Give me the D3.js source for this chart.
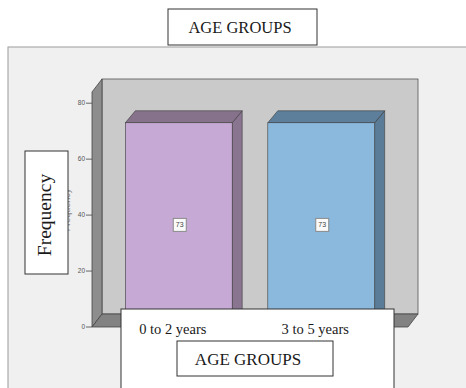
<!DOCTYPE html>
<html>
<head>
<meta charset="utf-8">
<script src="https://cdn.jsdelivr.net/npm/d3@7"></script>
<style>
  html, body { margin: 0; padding: 0; background: #ffffff; }
  svg { display: block; }
  .serif { font-family: "Liberation Serif", "DejaVu Serif", serif; fill: #1a1a1a; }
  .tick-label { font-family: "Liberation Sans", Arial, sans-serif; font-size: 6.5px; fill: #555; }
</style>
</head>
<body>
<svg id="chart" width="466" height="388"></svg>
<script>
// Age group frequencies
const categories = ["0 to 2 years", "3 to 5 years"];
const frequencies = [73, 73];
const yTicks = [0, 20, 40, 60, 80];
const chartTitle = "AGE GROUPS";
const xTitle = "AGE GROUPS";
const yTitle = "Frequency";

// Bar colours: front, top, side faces
const barFront = d3.scaleOrdinal().domain(categories).range(["#c6aad5", "#8bb9de"]);
const barTop = d3.scaleOrdinal().domain(categories).range(["#87728c", "#5d7f9b"]);
const barSide = d3.scaleOrdinal().domain(categories).range(["#8a7591", "#5a7c98"]);

const svg = d3.select("#chart");

// Front plane of the 3D box
const plotLeft = 92, plotRight = 408, plotBottom = 327, plotTop = 92;
const wallDepth = { dx: 10, dy: 13 };
const barDepth = { dx: 10, dy: 12 };

const y = d3.scaleLinear().domain([0, 84]).range([plotBottom, plotTop]);
const x = d3.scaleBand().domain(categories).range([plotLeft, plotRight])
  .paddingInner(0.25).paddingOuter(0.234);

// Outer chart panel
svg.append("rect")
  .attr("x", 8).attr("y", 47).attr("width", 480).attr("height", 360)
  .attr("fill", "#f0f0f0").attr("stroke", "#9c9c9c").attr("stroke-width", 1);

const pts = a => a.map(p => p.join(",")).join(" ");

// Back wall
svg.append("rect")
  .attr("x", plotLeft + wallDepth.dx).attr("y", plotTop - wallDepth.dy)
  .attr("width", plotRight - plotLeft).attr("height", plotBottom - plotTop)
  .attr("fill", "#cacaca").attr("stroke", "#555").attr("stroke-width", 0.8);

// Left side wall
svg.append("polygon")
  .attr("points", pts([[plotLeft, plotTop], [plotLeft + wallDepth.dx, plotTop - wallDepth.dy],
    [plotLeft + wallDepth.dx, plotBottom - wallDepth.dy], [plotLeft, plotBottom]]))
  .attr("fill", "#8d8d8d").attr("stroke", "#444").attr("stroke-width", 0.8);

// Floor
svg.append("polygon")
  .attr("points", pts([[plotLeft, plotBottom], [plotLeft + wallDepth.dx, plotBottom - wallDepth.dy],
    [plotRight + wallDepth.dx, plotBottom - wallDepth.dy], [plotRight, plotBottom]]))
  .attr("fill", "#828282").attr("stroke", "#444").attr("stroke-width", 0.8);

// Y axis ticks and labels
const yAxis = svg.append("g");
yAxis.selectAll("line").data(yTicks).join("line")
  .attr("x1", plotLeft - 6).attr("x2", plotLeft)
  .attr("y1", d => y(d)).attr("y2", d => y(d))
  .attr("stroke", "#444").attr("stroke-width", 0.8);
yAxis.selectAll("text").data(yTicks).join("text")
  .attr("class", "tick-label")
  .attr("x", plotLeft - 7).attr("y", d => y(d) + 2.3)
  .attr("text-anchor", "end")
  .text(d => d);

// 3D bars
const bars = svg.append("g").selectAll("g")
  .data(categories.map((c, i) => ({ c, v: frequencies[i] })))
  .join("g");

bars.append("polygon")
  .attr("points", d => {
    const x0 = x(d.c) + x.bandwidth(), yt = y(d.v), yb = y(0);
    return pts([[x0, yt], [x0 + barDepth.dx, yt - barDepth.dy],
      [x0 + barDepth.dx, yb - barDepth.dy], [x0, yb]]);
  })
  .attr("fill", d => barSide(d.c)).attr("stroke", "#3a3a3a").attr("stroke-width", 0.6);

bars.append("polygon")
  .attr("points", d => {
    const x0 = x(d.c), x1 = x0 + x.bandwidth(), yt = y(d.v);
    return pts([[x0, yt], [x0 + barDepth.dx, yt - barDepth.dy],
      [x1 + barDepth.dx, yt - barDepth.dy], [x1, yt]]);
  })
  .attr("fill", d => barTop(d.c)).attr("stroke", "#3a3a3a").attr("stroke-width", 0.6);

bars.append("rect")
  .attr("x", d => x(d.c)).attr("y", d => y(d.v))
  .attr("width", x.bandwidth()).attr("height", d => y(0) - y(d.v))
  .attr("fill", d => barFront(d.c)).attr("stroke", "#3a3a3a").attr("stroke-width", 0.6);

// Value labels
const cx = d => x(d.c) + x.bandwidth() / 2 + 1;
const cy = d => (y(d.v) + y(0)) / 2;
bars.append("rect")
  .attr("x", d => cx(d) - 6.5).attr("y", d => cy(d) - 6.5)
  .attr("width", 13).attr("height", 13)
  .attr("fill", "#fafafa").attr("stroke", "#8a8a8a").attr("stroke-width", 1);
bars.append("text")
  .attr("class", "tick-label")
  .attr("x", cx).attr("y", d => cy(d) + 2.5)
  .attr("text-anchor", "middle")
  .style("font-size", "7px").style("fill", "#444")
  .text(d => d.v);

// Small axis title, mostly covered by the boxed title
svg.append("text")
  .attr("class", "tick-label")
  .attr("transform", "translate(70,210) rotate(-90)")
  .attr("text-anchor", "middle")
  .style("font-size", "9px").style("fill", "#888")
  .text(yTitle);

// Y title box
svg.append("rect")
  .attr("x", 25).attr("y", 151).attr("width", 43).attr("height", 123)
  .attr("fill", "#ffffff").attr("stroke", "#333").attr("stroke-width", 1);
svg.append("text")
  .attr("class", "serif")
  .attr("transform", "translate(51,215) rotate(-90)")
  .attr("text-anchor", "middle")
  .style("font-size", "19.5px")
  .text(yTitle);

// X axis box with category labels and title
svg.append("rect")
  .attr("x", 121).attr("y", 309).attr("width", 273).attr("height", 90)
  .attr("fill", "#ffffff").attr("stroke", "#333").attr("stroke-width", 1);
svg.append("g").selectAll("text").data(categories).join("text")
  .attr("class", "serif")
  .attr("x", d => x(d) + x.bandwidth() / 2 - 6).attr("y", 334)
  .attr("text-anchor", "middle")
  .style("font-size", "14.5px")
  .text(d => d);
svg.append("rect")
  .attr("x", 177).attr("y", 341).attr("width", 156).attr("height", 35)
  .attr("fill", "#ffffff").attr("stroke", "#333").attr("stroke-width", 1);
svg.append("text")
  .attr("class", "serif")
  .attr("x", 248).attr("y", 365)
  .attr("text-anchor", "middle")
  .style("font-size", "17px")
  .text(xTitle);

// Chart title box
svg.append("rect")
  .attr("x", 168).attr("y", 9).attr("width", 149).attr("height", 36)
  .attr("fill", "#ffffff").attr("stroke", "#333").attr("stroke-width", 1);
svg.append("text")
  .attr("class", "serif")
  .attr("x", 240).attr("y", 33)
  .attr("text-anchor", "middle")
  .style("font-size", "16.5px")
  .text(chartTitle);
</script>
</body>
</html>
